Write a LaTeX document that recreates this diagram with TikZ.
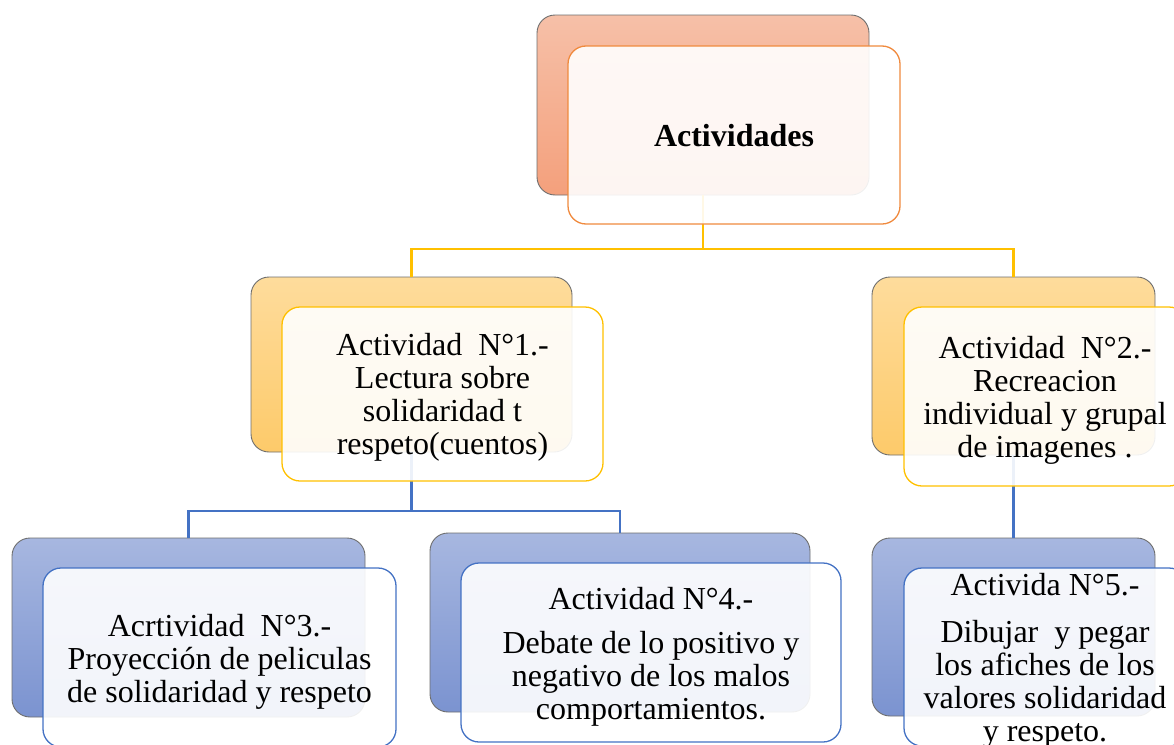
\documentclass[tikz,border=0pt]{standalone}
\usepackage{fontspec}
\setmainfont{Liberation Serif}
\definecolor{orTop}{HTML}{F6C0A8}
\definecolor{orBot}{HTML}{F4A07C}
\definecolor{orLine}{HTML}{F08A3E}
\definecolor{yeTop}{HTML}{FEDC9C}
\definecolor{yeBot}{HTML}{FDCA6A}
\definecolor{yeLine}{HTML}{FFC000}
\definecolor{blTop}{HTML}{A7B7E0}
\definecolor{blBot}{HTML}{7B93D0}
\definecolor{blLine}{HTML}{4472C4}
\definecolor{backLine}{HTML}{6E6E6E}
\tikzset{
  backbox/.style={draw=backLine, line width=0.9pt, rounded corners=18pt, inner sep=0pt, outer sep=0pt},
  orback/.style={backbox, top color=orTop, bottom color=orBot},
  yeback/.style={backbox, top color=yeTop, bottom color=yeBot},
  blback/.style={backbox, top color=blTop, bottom color=blBot},
  frontbox/.style={rounded corners=18pt, inner sep=0pt, outer sep=0pt, line width=1.3pt,
     fill=white, fill opacity=0.9},
  orfront/.style={frontbox, draw=orLine},
  yefront/.style={frontbox, draw=yeLine},
  blfront/.style={frontbox, draw=blLine},
  boxtext/.style={inner sep=0pt, align=center, font=\fontsize{32}{33}\selectfont},
  yconn/.style={draw=yeLine, line width=2.4pt},
  bconn/.style={draw=blLine, line width=2.4pt},
}
\begin{document}
\begin{tikzpicture}[x=1pt, y=-1pt]
\useasboundingbox (0,0) rectangle (1174,744);
\clip (0,0) rectangle (1174,744);
% back boxes
\node[orback, minimum width=332pt, minimum height=180pt] (tb) at (703,105) {};
\node[yeback, minimum width=321pt, minimum height=175pt] (ab) at (411.5,364.5) {};
\node[yeback, minimum width=283pt, minimum height=178pt] (bb) at (1013.5,366) {};
\node[blback, minimum width=353pt, minimum height=179pt] (cb) at (188.5,627.5) {};
\node[blback, minimum width=380pt, minimum height=179pt] (db) at (620,622.5) {};
\node[blback, minimum width=283pt, minimum height=178pt] (eb) at (1013.5,627) {};
% junctions
\coordinate (j1) at (703,249);
\coordinate (j2) at (411.5,511);
% connectors
\draw[yconn] (tb.south) -- (j1);
\draw[yconn] (ab.north) |- (j1) -| (bb.north);
\draw[bconn] (ab.south) -- (j2);
\draw[bconn] (cb.north) |- (j2) -| (db.north);
\draw[bconn] (bb.south) -- (eb.north);
% front boxes
\node[orfront, minimum width=332pt, minimum height=178pt] (tf) at (734,135) {};
\node[yefront, minimum width=321pt, minimum height=174pt] (af) at (442.5,394) {};
\node[yefront, minimum width=283pt, minimum height=179pt] (bf) at (1045.5,396.5) {};
\node[blfront, minimum width=353pt, minimum height=179pt] (cf) at (219.5,657.5) {};
\node[blfront, minimum width=380pt, minimum height=179pt] (df) at (651,652.5) {};
\node[blfront, minimum width=283pt, minimum height=178pt] (ef) at (1045.5,657) {};
% texts
\node[boxtext] (tt) at (734,136) {\textbf{Actividades}};
\node[boxtext] (at) at (442.5,397.5)
  {Actividad~~N°1.-\\Lectura sobre\\solidaridad t\\respeto(cuentos)};
\node[boxtext] (bt) at (1045,400)
  {Actividad~~N°2.-\\Recreacion\\individual y grupal\\de imagenes .};
\node[boxtext] (ct) at (219.5,661.5)
  {Acrtividad~~N°3.-\\Proyección de peliculas\\de solidaridad y respeto};
\node[boxtext] (dt) at (651,656.5)
  {Actividad N°4.-\\[11pt]Debate de lo positivo y\\negativo de los malos\\comportamientos.};
\node[boxtext] (et) at (1045,660.5)
  {Activida N°5.-\\[14pt]Dibujar~~y pegar\\los afiches de los\\valores solidaridad\\y respeto.};
\end{tikzpicture}
\end{document}
